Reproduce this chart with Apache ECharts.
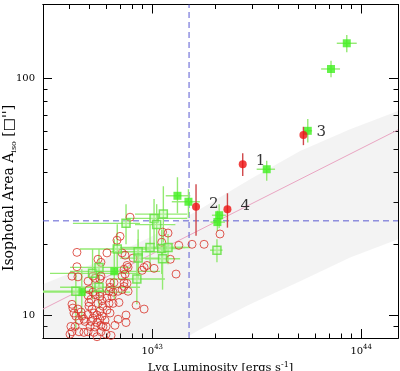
<!DOCTYPE html>
<html><head><meta charset="utf-8">
<script src="https://cdn.jsdelivr.net/npm/echarts@6/dist/echarts.min.js"></script>
<style>html,body{margin:0;padding:0;background:#fff}#c{width:400px;height:371px}</style>
</head><body><div id="c"></div>
<script>
// ---- data (luminosity in units of 1e42 erg/s, area in arcsec^2) ----
const E42 = 1e42;
const X_MIN = 3e42, X_MAX = 1.5e44, Y_MIN = 8, Y_MAX = 205;
const xMajor = [1e43, 1e44];
const xMajorExp = ['43', '44'];
const xMinor = [4e42,5e42,6e42,7e42,8e42,9e42,2e43,3e43,4e43,5e43,6e43,7e43,8e43,9e43];
const yMajor = [10, 100];
const yMajorLabels = ['10', '100'];
const yMinor = [9,20,30,40,50,60,70,80,90];

// red open circles
const redL = [7.83,11.2,11.9,11.1,13.4,15.5,17.7,21.1,12.2,13.0,10.2,9.44,8.94,6.78,7.01,4.36,5.50,5.68,6.07,7.17,
  7.41,8.09,7.66,7.33,7.57,9.14,4.13,4.41,4.36,4.93,5.32,5.62,5.68,5.20,6.28,6.56,7.33,7.57,7.33,7.17,
  7.66,6.28,6.21,6.49,6.86,4.98,5.20,4.93,5.62,5.32,5.09,5.62,5.75,6.07,6.42,7.41,7.17,4.98,5.50,6.21,
  6.49,6.93,8.37,9.14,4.13,4.17,4.41,4.56,4.22,4.31,4.61,4.46,4.71,5.15,4.98,5.26,5.62,5.81,5.20,5.44,
  5.09,5.44,5.62,5.75,5.68,6.07,6.28,6.63,6.86,7.49,7.49,4.08,4.13,4.46,4.71,5.04,5.32,5.26,5.81,5.68,
  6.01,4.04,4.76,4.93,6.01,5.44,4.27,6.35,5.94,4.93];
const redA = [25.9,22.4,22.2,20.3,19.7,19.9,19.9,22.0,17.2,14.9,15.75,16.2,15.45,20.7,21.5,18.4,17.2,16.7,18.3,18.3,
  17.9,17.4,15.9,15.6,16.2,15.9,14.6,14.5,16.0,13.9,14.3,14.2,14.6,14.6,13.7,13.7,13.7,13.6,13.2,12.8,
  12.6,13.1,12.6,12.5,12.6,12.8,12.5,12.1,12.5,12.2,11.65,12.0,11.5,11.8,12.0,14.9,14.6,11.3,11.2,11.2,
  11.2,11.3,11.0,10.6,11.1,10.7,10.6,10.3,10.2,9.9,9.9,9.5,9.6,10.6,10.9,10.2,10.4,10.9,9.7,10.0,
  9.4,9.3,9.6,9.9,9.05,10.5,10.2,9.05,9.6,10.0,9.3,8.95,8.5,8.5,8.45,8.95,8.9,8.45,8.95,8.5,
  8.3,8.3,9.4,8.5,8.95,8.1,8.95,8.2,9.5,10.05];

// green squares with error bars
const gL   = [85.3,71.7,55.5,35.3,20.9,20.5,20.4,13.2,14.9,11.3,10.2,10.5,7.49,9.76,11.1,11.9,6.80,8.56,8.56,11.2,6.58,5.18,8.44,4.60,4.31,5.56,5.56];
const gLlo = [76.4,64.3,52.7,31.6,19.3,19.0,18.9,11.6,12.4,8.27,7.57,8.27,4.17,7.01,9.24,9.76,4.51,6.28,7.01,9.24,4.04,3.24,6.28,3.0,3.0,3.62,4.04];
const gLhi = [95.2,79.2,58.2,38.7,22.5,22.3,21.7,15.2,16.9,14.7,14.7,12.9,8.74,14.4,13.6,15.2,9.76,11.5,10.9,13.6,10.9,8.74,11.5,7.83,6.28,8.74,7.83];
const gA   = [140.6,109.5,60.0,41.3,26.4,24.7,18.8,31.9,30.1,26.7,25.6,24.1,24.4,19.3,19.1,19.3,19.0,18.5,17.4,17.3,15.3,15.0,14.2,12.5,12.6,13.1,15.9];
const gAlo = [128.8,101.0,53.6,36.9,23.3,22.6,16.7,26.9,25.9,20.3,19.9,19.0,19.9,15.6,14.9,16.4,14.9,14.9,14.2,12.8,11.65,11.65,11.1,9.6,8.7,10.6,12.8];
const gAhi = [152.5,118.7,67.3,44.8,29.4,27.6,20.9,38.2,34.0,35.0,30.9,29.4,29.4,24.2,23.0,22.0,24.2,23.0,20.9,19.9,20.9,19.0,18.1,15.6,14.9,15.6,19.0];
const gFilled = [1,1,1,1,1,1,0,1,1,0,0,0,0,0,0,0,0,0,0,0,1,0,0,1,0,0,0];

// labelled red filled points
const rfL   = [27.1,16.2,52.9,22.9];
const rfA   = [43.4,28.7,57.6,28.0];
const rfAlo = [38.7,21.6,52.2,23.4];
const rfAhi = [48.2,35.7,62.4,32.7];
const rfLabels = ['1','2','3','4'];

// relation line and selection cuts
const lineL = [3, 150];
const lineA = [10.6, 60.6];
const cutL = 15;   // 1.5e43
const cutA = 25;

// simulated-sample cloud outline
const cloudL = [3.0, 5.62, 9.76, 16.9, 29.4, 51.0, 88.5, 150, 150, 88.5, 51.0, 29.4, 16.9, 14.4, 3.0];
const cloudA = [13.5, 16.9, 21.3, 28.0, 37.5, 49.3, 61.0, 72.7, 20.9, 17.5, 13.9, 11.1, 8.7, 8, 8];

const xTitle = 'Lyα Luminosity [ergs s{s|-1}]';
const yTitle = 'Isophotal Area A{u|iso} [□\'\']';

// ---- chart ----
const SERIF = 'DejaVu Serif';
function xAx(pos, ticks, len, label) {
  return { type:'log', logBase:10, min:X_MIN, max:X_MAX, position:pos, gridIndex:0,
    axisLine:{show:true, onZero:false, lineStyle:{color:'#000', width:1}},
    axisTick:{show:true, inside:true, length:len, customValues:ticks, lineStyle:{color:'#000', width:1}},
    axisLabel: label ? { show:true, customValues:xMajor, margin:6,
        formatter: v => { const i = xMajor.findIndex(t => Math.abs(t - v) / t < 1e-6); return '{b|10}{s|' + xMajorExp[i] + '}'; },
        rich:{ b:{fontFamily:SERIF, fontSize:10, color:'#000'},
               s:{fontFamily:SERIF, fontSize:7, color:'#000', verticalAlign:'bottom', padding:[0,0,7,0]} } }
      : {show:false},
    splitLine:{show:false}, minorTick:{show:false}, minorSplitLine:{show:false} };
}
function yAx(pos, ticks, len, label) {
  return { type:'log', logBase:10, min:Y_MIN, max:Y_MAX, position:pos, gridIndex:0,
    axisLine:{show:true, onZero:false, lineStyle:{color:'#000', width:1}},
    axisTick:{show:true, inside:true, length:len, customValues:ticks, lineStyle:{color:'#000', width:1}},
    axisLabel: label ? { show:true, customValues:yMajor, margin:8, fontFamily:SERIF, fontSize:10, color:'#000',
        formatter: v => { const i = yMajor.findIndex(t => Math.abs(t - v) / t < 1e-6); return yMajorLabels[i]; } }
      : {show:false},
    splitLine:{show:false}, minorTick:{show:false}, minorSplitLine:{show:false} };
}

const xAxes = [xAx('bottom', xMajor, 9, true), xAx('bottom', xMinor, 4.5, false), xAx('top', xMajor, 9, false), xAx('top', xMinor, 4.5, false)];
xAxes[0].name = xTitle;
xAxes[0].nameLocation = 'middle';
xAxes[0].nameGap = 20;
xAxes[0].nameTextStyle = { fontFamily:SERIF, fontSize:11.5, color:'#000',
  rich:{ s:{fontFamily:SERIF, fontSize:8, color:'#000', verticalAlign:'bottom', padding:[0,0,7,0]} } };
const yAxes = [yAx('left', yMajor, 9, true), yAx('left', yMinor, 4.5, false), yAx('right', yMajor, 9, false), yAx('right', yMinor, 4.5, false)];

const chart = echarts.init(document.getElementById('c'), null, {renderer:'canvas'});

const errGreen = gL.map((l, i) => [l * E42, gA[i], gLlo[i] * E42, gLhi[i] * E42, gAlo[i], gAhi[i]]);
const errRed = rfL.map((l, i) => [l * E42, rfA[i], rfAlo[i], rfAhi[i]]);
const cutStyle = {color:'#5a5ad2', width:1, type:[6,4]};

chart.setOption({
  animation:false,
  backgroundColor:'#fff',
  grid:{left:43, right:2, top:4.5, bottom:33, containLabel:false, outerBoundsMode:'none'},
  xAxis:xAxes,
  yAxis:yAxes,
  graphic:[{ type:'text', x:9, y:188, rotation:Math.PI / 2, silent:true,
    style:{ text:yTitle, fontFamily:SERIF, fontSize:14, fill:'#000', align:'center', verticalAlign:'middle',
      rich:{ u:{fontFamily:SERIF, fontSize:8, fill:'#000', verticalAlign:'top', padding:[9,0,0,0]} } } }],
  series:[
    { type:'custom', xAxisIndex:0, yAxisIndex:0, silent:true, z:1,
      data: cloudL.map((l, i) => [l * E42, cloudA[i]]),
      renderItem:(params, api) => {
        if (params.dataIndex !== 0) return;
        const pts = cloudL.map((l, i) => api.coord([l * E42, cloudA[i]]));
        return { type:'polygon', shape:{points:pts}, style:{fill:'rgba(150,150,150,0.11)'} };
      } },
    { type:'line', xAxisIndex:0, yAxisIndex:0, silent:true, z:2, symbol:'none', color:'#eaa5c2',
      data: lineL.map((l, i) => [l * E42, lineA[i]]),
      lineStyle:{color:'#eaa5c2', width:1} },
    { type:'line', xAxisIndex:0, yAxisIndex:0, silent:true, z:2, symbol:'none', color:'#5a5ad2',
      data: [[cutL * E42, Y_MIN], [cutL * E42, Y_MAX]], lineStyle:cutStyle },
    { type:'line', xAxisIndex:0, yAxisIndex:0, silent:true, z:2, symbol:'none', color:'#5a5ad2',
      data: [[X_MIN, cutA], [X_MAX, cutA]], lineStyle:cutStyle },
    { type:'custom', xAxisIndex:0, yAxisIndex:0, silent:true, z:3, data:errGreen,
      encode:{x:0, y:1},
      renderItem:(params, api) => {
        const L = api.value(0), A = api.value(1);
        const a = api.coord([api.value(2), A]), b = api.coord([api.value(3), A]);
        const c = api.coord([L, api.value(4)]), d = api.coord([L, api.value(5)]);
        const st = {stroke:'#93ea72', lineWidth:1.4};
        return { type:'group', children:[
          {type:'line', shape:{x1:a[0], y1:a[1], x2:b[0], y2:b[1]}, style:st},
          {type:'line', shape:{x1:c[0], y1:c[1], x2:d[0], y2:d[1]}, style:st} ] };
      } },
    { type:'scatter', xAxisIndex:0, yAxisIndex:0, silent:true, z:4, symbol:'circle', symbolSize:8,
      data: redL.map((l, i) => [l * E42, redA[i]]),
      itemStyle:{color:'rgba(255,255,255,0)', borderColor:'#d83228', borderWidth:1} },
    { type:'scatter', xAxisIndex:0, yAxisIndex:0, silent:true, z:5, symbol:'rect', symbolSize:8,
      data: gL.map((l, i) => ({ value:[l * E42, gA[i]],
        itemStyle: gFilled[i] ? {color:'#3ff01e', borderColor:'#3ff01e', borderWidth:0}
                              : {color:'rgba(190,245,170,0.55)', borderColor:'#5ee03a', borderWidth:1.5} })) },
    { type:'custom', xAxisIndex:0, yAxisIndex:0, silent:true, z:6, data:errRed,
      encode:{x:0, y:1},
      renderItem:(params, api) => {
        const L = api.value(0);
        const c = api.coord([L, api.value(2)]), d = api.coord([L, api.value(3)]);
        return {type:'line', shape:{x1:c[0], y1:c[1], x2:d[0], y2:d[1]}, style:{stroke:'#d0474a', lineWidth:1.4}};
      } },
    { type:'scatter', xAxisIndex:0, yAxisIndex:0, silent:true, z:7, symbol:'circle', symbolSize:8,
      data: rfL.map((l, i) => [l * E42, rfA[i]]),
      itemStyle:{color:'#ee1212'},
      label:{show:true, position:'right', distance:9, offset:[0,-3], fontFamily:SERIF, fontSize:15, color:'#000',
        formatter: p => rfLabels[p.dataIndex]} }
  ]
});
</script></body></html>
